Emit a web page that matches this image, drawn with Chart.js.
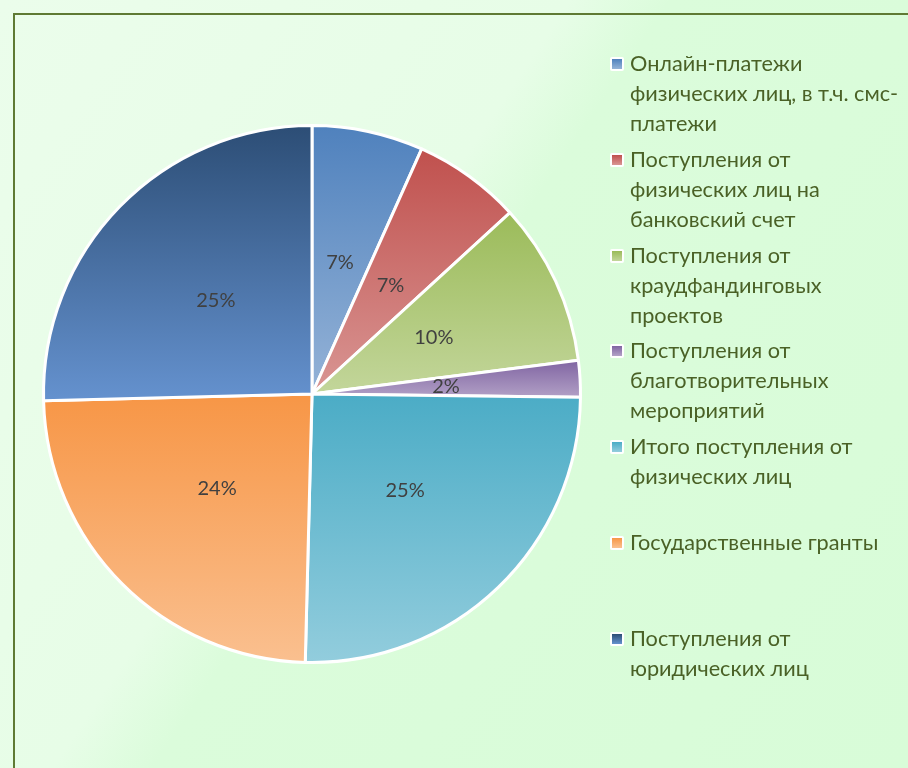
<!DOCTYPE html>
<html>
<head>
<meta charset="utf-8">
<script src="https://cdn.jsdelivr.net/npm/chart.js@4"></script>
<style>
    html, body { margin: 0; padding: 0; }
    body { background: #e8fde8; }
    #wrap {
        position: relative; width: 908px; height: 768px; overflow: hidden;
        background: linear-gradient(124deg, #ebfdeb 0%, #e7fde7 40%, #dbfcdb 47%, #d8fcd8 100%);
    }
    #frame {
        position: absolute; left: 13px; top: 13px; width: 1200px; height: 1200px;
        border-left: 2px solid #5f7a34; border-top: 2px solid #5f7a34;
    }
    #chartBox { position: absolute; left: 0; top: 0; width: 908px; height: 768px; }
    #legend { position: absolute; left: 0; top: 0; }
    .item { position: absolute; left: 610px; font-family: Lato, "Open Sans", sans-serif; font-size: 21.7px; line-height: 30px; color: #4a6126; }
    .mark { position: absolute; left: 0; top: 9px; width: 10px; height: 10px; border: 2px solid #fff; border-radius: 2px; }
    .txt { position: absolute; left: 20px; top: 0; white-space: nowrap; }
</style>
</head>
<body>
<div id="wrap">
    <div id="frame"></div>
    <div id="chartBox"><canvas id="pieChart"></canvas></div>
    <div id="legend"></div>
</div>
<script>
// Categories (legend lines as they wrap in the original)
const categories = [
    ['Онлайн-платежи', 'физических лиц, в т.ч. смс-', 'платежи'],
    ['Поступления от', 'физических лиц на', 'банковский счет'],
    ['Поступления от', 'краудфандинговых', 'проектов'],
    ['Поступления от', 'благотворительных', 'мероприятий'],
    ['Итого поступления от', 'физических лиц'],
    ['Государственные гранты'],
    ['Поступления от', 'юридических лиц']
];

// Shares, percent
const shares = [6.7, 6.5, 9.8, 2.2, 25.2, 24.2, 25.4];

// Gradient colours, top -> bottom
const topColors = ['#4f81bd', '#c0504d', '#9bbb59', '#8064a2', '#4bacc6', '#f79646', '#2c4d75'];
const bottomColors = ['#95b3d7', '#d99694', '#c3d69b', '#b3a2c7', '#93cddd', '#fac090', '#6592cf'];

// Vertical extent of a slice, used for its gradient
const sliceExtent = (chart, index) => {
    const area = chart.chartArea;
    const cx = (area.left + area.right) / 2;
    const cy = (area.top + area.bottom) / 2;
    const r = Math.min(area.right - area.left, area.bottom - area.top) / 2;
    const total = shares.reduce((a, b) => a + b, 0);
    let before = 0;
    for (let k = 0; k < index; k++) before += shares[k];
    const a0 = -Math.PI / 2 + before / total * Math.PI * 2;
    const a1 = a0 + shares[index] / total * Math.PI * 2;
    const ys = [cy, cy + r * Math.sin(a0), cy + r * Math.sin(a1)];
    [-Math.PI / 2, Math.PI / 2, Math.PI * 1.5].forEach(a => {
        if (a > a0 && a < a1) ys.push(cy + r * Math.sin(a));
    });
    return [Math.min(...ys), Math.max(...ys)];
};

const sliceFill = (context) => {
    const chart = context.chart;
    if (!chart.chartArea || context.type !== 'data') return topColors[context.dataIndex];
    const i = context.dataIndex;
    const [y0, y1] = sliceExtent(chart, i);
    const g = chart.ctx.createLinearGradient(0, y0, 0, y1 + 1);
    g.addColorStop(0, topColors[i]);
    g.addColorStop(1, bottomColors[i]);
    return g;
};

// Percent labels in the middle of each slice
const percentLabels = {
    id: 'percentLabels',
    afterDatasetsDraw(chart) {
        const ctx = chart.ctx;
        const meta = chart.getDatasetMeta(0);
        ctx.save();
        ctx.font = '20px Lato, "Open Sans", sans-serif';
        ctx.fillStyle = '#404040';
        ctx.textAlign = 'center';
        ctx.textBaseline = 'middle';
        meta.data.forEach((arc, i) => {
            const p = arc.tooltipPosition();
            ctx.fillText(Math.round(shares[i]) + '%', p.x, p.y);
        });
        ctx.restore();
    }
};

const initializeChart = () => {
    const ctx = document.getElementById('pieChart').getContext('2d');
    new Chart(ctx, {
        type: 'pie',
        data: {
            labels: categories.map(c => c.join(' ')),
            datasets: [{
                data: shares,
                backgroundColor: sliceFill,
                borderColor: '#ffffff',
                borderWidth: 3
            }]
        },
        options: {
            responsive: true,
            maintainAspectRatio: false,
            animation: false,
            layout: { padding: { left: 42, top: 124, right: 326, bottom: 104 } },
            plugins: {
                legend: { display: false },
                tooltip: { enabled: false }
            }
        },
        plugins: [percentLabels]
    });
};

// HTML legend, each entry in an equal slot
const buildLegend = () => {
    const legend = document.getElementById('legend');
    legend.innerHTML = categories.map((lines, i) => `
        <div class="item" style="top:${48 + i * 95.8}px">
            <div class="mark" style="background:linear-gradient(${topColors[i]}, ${bottomColors[i]})"></div>
            <div class="txt">${lines.join('<br>')}</div>
        </div>
    `).join('');
};

document.addEventListener('DOMContentLoaded', () => {
    buildLegend();
    initializeChart();
});
</script>
</body>
</html>
